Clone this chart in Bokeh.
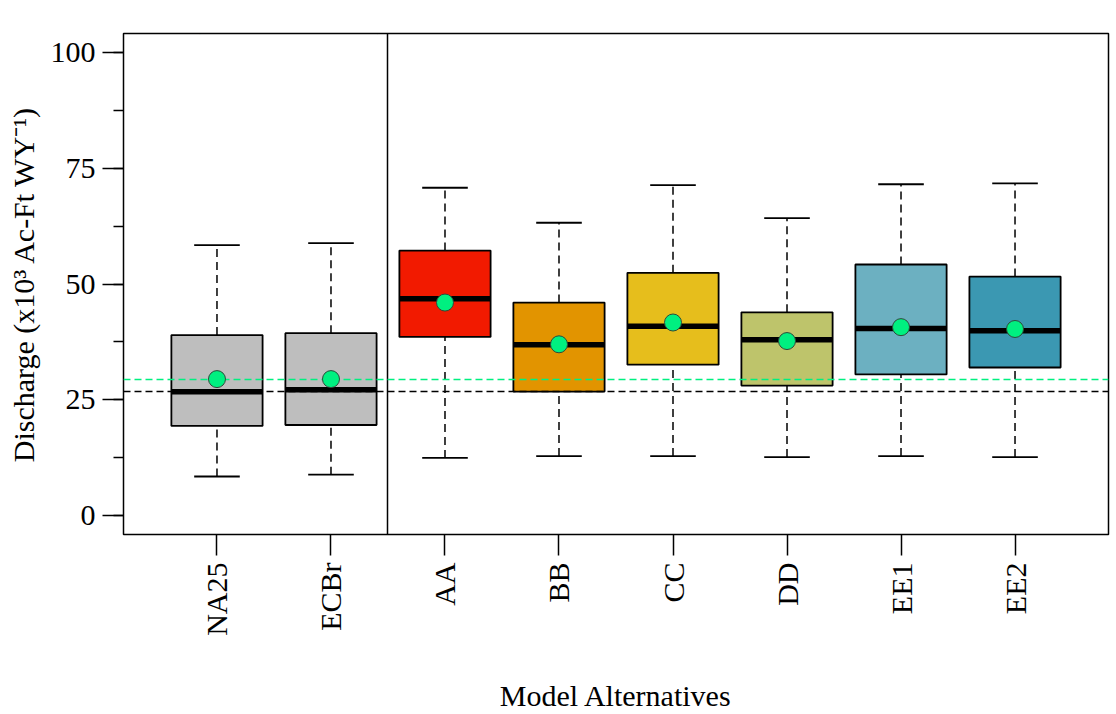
from bokeh.plotting import figure
from bokeh.models import Range1d, FixedTicker, SingleIntervalTicker, Label, ColumnDataSource
from bokeh.embed import file_html
from bokeh.resources import INLINE

# ---- data ----
categories = ["NA25", "ECBr", "AA", "BB", "CC", "DD", "EE1", "EE2"]
positions = [1, 2, 3, 4, 5, 6, 7, 8]
lower_whisker = [8.5, 8.9, 12.5, 12.9, 12.9, 12.7, 12.9, 12.7]
q1 = [19.4, 19.6, 38.6, 26.8, 32.6, 28.1, 30.5, 32.0]
median = [26.75, 27.2, 46.8, 36.9, 40.9, 38.0, 40.4, 39.9]
q3 = [39.0, 39.4, 57.2, 46.0, 52.4, 43.9, 54.2, 51.6]
upper_whisker = [58.4, 58.8, 70.75, 63.2, 71.3, 64.2, 71.5, 71.7]
means = [29.5, 29.5, 46.0, 37.0, 41.7, 37.7, 40.7, 40.3]
colors = ["#BEBEBE", "#BEBEBE", "#F21A00", "#E29400", "#E6BE1C", "#BEC46B", "#6CB0C1", "#3B98B2"]
ref_median = [26.75]   # NA25 median
ref_mean = [29.5]      # NA25 mean
divider = [2.5]
y_ticks_major = 25
left_title = "EAA (S-354 + S-351)"
right_title = "FLWY 1966 - 2016"
x_label = "Model Alternatives"
y_label = "Discharge (x10\u00b3 Ac-Ft WY\u207b\u00b9)"

FONT = "Liberation Serif"
FS = "30px"
GREEN = "#00F080"

box_w = 0.8
cap_w = 0.4

src = ColumnDataSource(dict(
    x=positions, lo=lower_whisker, q1=q1, med=median, q3=q3, hi=upper_whisker,
    mean=means, color=colors,
    xl=[p - box_w / 2 for p in positions], xr=[p + box_w / 2 for p in positions],
    cl=[p - cap_w / 2 for p in positions], cr=[p + cap_w / 2 for p in positions],
))

xr_ = Range1d(0.18, 8.82)
yr_ = Range1d(-4, 104)
p = figure(width=1116, height=714, output_backend="svg", toolbar_location=None,
           x_range=xr_, y_range=yr_,
           min_border_left=123, min_border_right=8, min_border_top=33, min_border_bottom=180)

p.background_fill_color = "white"
p.border_fill_color = "white"
p.outline_line_color = "black"
p.outline_line_width = 1.5
p.xgrid.visible = False
p.ygrid.visible = False

# whiskers (dashed)
p.segment(x0="x", y0="q3", x1="x", y1="hi", source=src, line_color="black", line_width=1.5, line_dash="8 5")
p.segment(x0="x", y0="lo", x1="x", y1="q1", source=src, line_color="black", line_width=1.5, line_dash="8 5")
# caps
p.segment(x0="cl", y0="hi", x1="cr", y1="hi", source=src, line_color="black", line_width=1.8)
p.segment(x0="cl", y0="lo", x1="cr", y1="lo", source=src, line_color="black", line_width=1.8)
# boxes
p.quad(left="xl", right="xr", bottom="q1", top="q3", source=src, fill_color="color",
       line_color="black", line_width=1.8)

# divider
p.vspan(x=divider, line_color="black", line_width=1.5)

# reference lines
p.hspan(y=ref_median, line_color="black", line_width=1.7, line_dash="7 4")
p.hspan(y=ref_mean, line_color=GREEN, line_width=1.7, line_dash="7 4")

# medians
p.segment(x0="xl", y0="med", x1="xr", y1="med", source=src, line_color="black", line_width=5.5)
# means
p.scatter(x="x", y="mean", source=src, marker="circle", size=17, fill_color=GREEN,
          line_color="#2E4A3A", line_width=1)

# axes
p.xaxis.ticker = FixedTicker(ticks=positions)
p.xaxis.major_label_overrides = {pos: c for pos, c in zip(positions, categories)}
p.xaxis.major_label_orientation = 1.5708
p.xaxis.minor_tick_line_color = None
p.yaxis.ticker = SingleIntervalTicker(interval=y_ticks_major, num_minor_ticks=2)

for ax in (p.xaxis[0], p.yaxis[0]):
    ax.axis_line_color = None
    ax.major_tick_in = 0
    ax.major_tick_out = 21
    ax.major_tick_line_width = 1.5
    ax.major_tick_line_color = "black"
    ax.major_label_text_font = FONT
    ax.major_label_text_font_size = FS
    ax.major_label_text_color = "black"
    ax.major_label_standoff = 7
    ax.axis_label_text_font = FONT
    ax.axis_label_text_font_size = FS
    ax.axis_label_text_font_style = "normal"
    ax.axis_label_text_color = "black"

p.yaxis.minor_tick_in = 0
p.yaxis.minor_tick_out = 10
p.yaxis.minor_tick_line_width = 1.5
p.yaxis.minor_tick_line_color = "black"

p.yaxis.axis_label = y_label
p.yaxis.axis_label_standoff = 8
p.xaxis.axis_label = x_label
p.xaxis.axis_label_standoff = 40

# panel titles
p.add_layout(Label(x=xr_.start, y=yr_.end, text=left_title, text_font=FONT, text_font_size=FS,
                   text_align="left", text_baseline="bottom", y_offset=0, text_color="black"))
p.add_layout(Label(x=xr_.end, y=yr_.end, text=right_title, text_font=FONT, text_font_size=FS,
                   text_align="right", text_baseline="bottom", y_offset=0, text_color="black"))

open("out.html", "w").write(file_html(p, INLINE))
